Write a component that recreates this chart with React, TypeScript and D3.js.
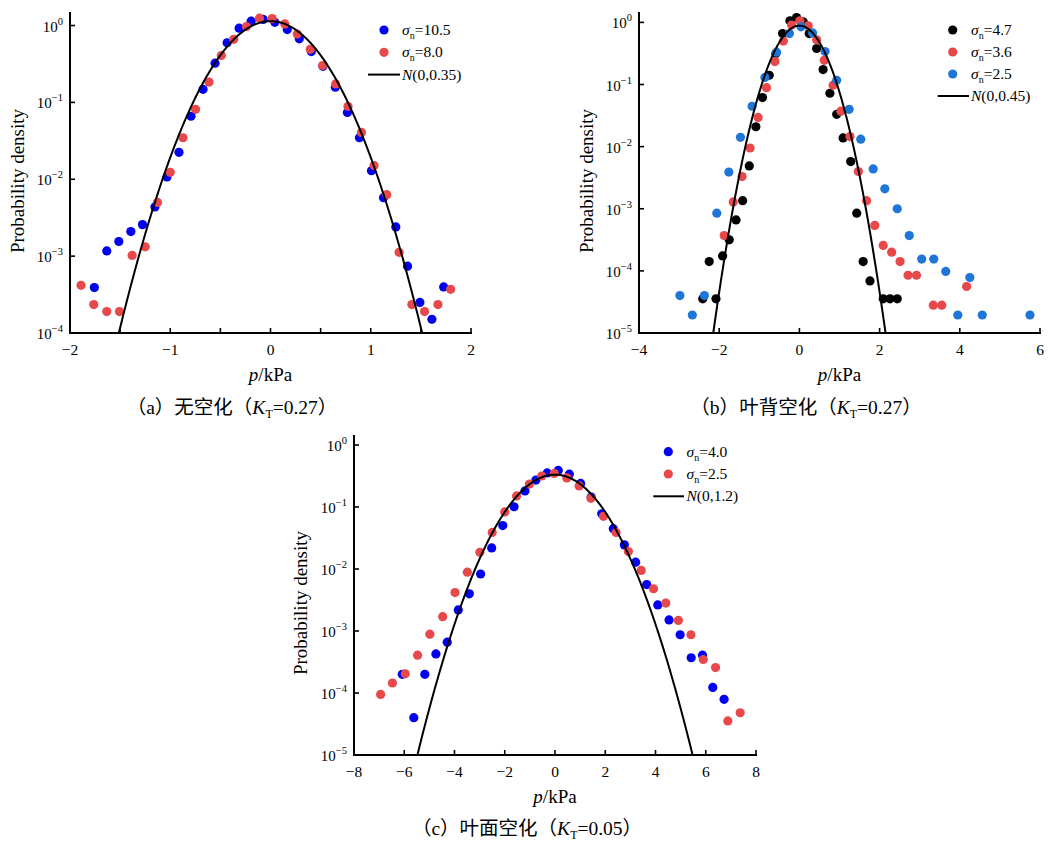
import React from 'react';
import * as d3 from 'd3';

// ---------- Panel (a): 无空化 ----------
const aSigma105: [number, number][] = [
  [-1.757, 3.9e-4], [-1.633, 1.17e-3], [-1.513, 1.55e-3], [-1.393, 2.09e-3], [-1.277, 2.57e-3],
  [-1.153, 4.37e-3], [-1.033, 1.07e-2], [-0.913, 2.24e-2], [-0.793, 6.6e-2], [-0.673, 0.148],
  [-0.553, 0.324], [-0.433, 0.596], [-0.313, 0.923], [-0.193, 1.14], [-0.073, 1.2],
  [0.043, 1.1], [0.167, 0.887], [0.287, 0.671], [0.407, 0.459], [0.523, 0.295],
  [0.647, 0.158], [0.767, 0.0741], [0.887, 0.0347], [1.007, 0.0129], [1.127, 5.75e-3],
  [1.25, 2.4e-3], [1.367, 7.4e-4], [1.49, 2.5e-4], [1.61, 1.51e-4], [1.727, 3.98e-4],
];
const aSigma80: [number, number][] = [
  [-1.89, 4.17e-4], [-1.763, 2.34e-4], [-1.633, 1.9e-4], [-1.507, 1.9e-4], [-1.38, 1.02e-3],
  [-1.25, 1.32e-3], [-1.127, 5.0e-3], [-1.0, 0.0123], [-0.873, 0.0347], [-0.747, 0.0813],
  [-0.613, 0.184], [-0.49, 0.407], [-0.367, 0.661], [-0.24, 0.97], [-0.11, 1.245],
  [0.017, 1.23], [0.143, 1.05], [0.267, 0.776], [0.397, 0.49], [0.52, 0.302],
  [0.65, 0.174], [0.773, 0.089], [0.907, 0.0407], [1.033, 0.0151], [1.16, 6.3e-3],
  [1.283, 1.12e-3], [1.41, 2.34e-4], [1.537, 1.9e-4], [1.67, 2.34e-4], [1.797, 3.7e-4],
];
const aNormalSigma = 0.35;
const aXTicks = [-2, -1.5, -1, -0.5, 0, 0.5, 1, 1.5, 2];
const aXLabels = [-2, -1, 0, 1, 2];
const aYExps = [0, -1, -2, -3, -4];

// ---------- Panel (b): 叶背空化 ----------
const bSigma47: [number, number][] = [
  [-2.41, 3.55e-5], [-2.25, 1.41e-4], [-2.08, 3.55e-5], [-1.915, 1.74e-4], [-1.75, 3.16e-4],
  [-1.58, 6.6e-4], [-1.415, 1.35e-3], [-1.25, 4.9e-3], [-1.085, 0.0209], [-0.92, 0.0617],
  [-0.753, 0.141], [-0.587, 0.316], [-0.42, 0.661], [-0.237, 1.06], [-0.07, 1.2],
  [0.095, 1.02], [0.245, 0.661], [0.43, 0.38], [0.59, 0.174], [0.76, 0.0724],
  [0.93, 0.0331], [1.09, 0.0138], [1.28, 5.75e-3], [1.43, 8.5e-4], [1.59, 1.41e-4],
  [1.76, 6.9e-5], [2.09, 3.55e-5], [2.26, 3.55e-5], [2.44, 3.55e-5],
];
const bSigma36: [number, number][] = [
  [-1.875, 3.7e-4], [-1.65, 1.29e-3], [-1.43, 3.3e-3], [-1.23, 9.5e-3], [-1.03, 0.0295],
  [-0.82, 0.089], [-0.61, 0.234], [-0.4, 0.5], [-0.195, 0.906], [0.01, 1.06],
  [0.22, 0.88], [0.43, 0.525], [0.62, 0.245], [0.84, 0.0977], [1.035, 0.0372],
  [1.26, 0.0145], [1.47, 3.98e-3], [1.675, 1.35e-3], [1.88, 5.4e-4], [2.09, 2.57e-4],
  [2.3, 2.0e-4], [2.51, 1.41e-4], [2.71, 8.5e-5], [2.92, 8.5e-5], [3.34, 2.8e-5],
  [3.55, 2.8e-5], [4.17, 5.6e-5],
];
const bSigma25: [number, number][] = [
  [-2.98, 4.0e-5], [-2.67, 1.95e-5], [-2.37, 4.0e-5], [-2.06, 8.5e-4], [-1.76, 3.9e-3],
  [-1.47, 0.0141], [-1.18, 0.0447], [-0.86, 0.13], [-0.57, 0.331], [-0.25, 0.661],
  [0.04, 0.85], [0.33, 0.676], [0.64, 0.339], [0.93, 0.117], [1.24, 0.0398],
  [1.53, 0.0132], [1.84, 4.37e-3], [2.13, 2.09e-3], [2.44, 1.0e-3], [2.74, 3.7e-4],
  [3.05, 1.55e-4], [3.35, 1.55e-4], [3.65, 9.8e-5], [3.95, 1.95e-5], [4.25, 7.8e-5],
  [4.56, 1.95e-5], [5.75, 1.95e-5],
];
const bNormalSigma = 0.45;
const bXTicks = [-4, -2, 0, 2, 4, 6];
const bXLabels = [-4, -2, 0, 2, 4, 6];
const bYExps = [0, -1, -2, -3, -4, -5];

// ---------- Panel (c): 叶面空化 ----------
const cSigma40: [number, number][] = [
  [-6.08, 2.0e-4], [-5.62, 4.0e-5], [-5.18, 2.0e-4], [-4.74, 4.27e-4], [-4.29, 6.6e-4],
  [-3.85, 2.19e-3], [-3.41, 3.98e-3], [-2.96, 8.3e-3], [-2.52, 0.0219], [-2.08, 0.0501],
  [-1.63, 0.101], [-1.195, 0.182], [-0.76, 0.272], [-0.31, 0.355], [0.13, 0.389],
  [0.57, 0.339], [1.02, 0.24], [1.44, 0.145], [1.86, 0.0776], [2.32, 0.0447],
  [2.76, 0.0245], [3.21, 0.0129], [3.65, 5.6e-3], [4.09, 2.63e-3], [4.54, 1.51e-3],
  [4.98, 8.7e-4], [5.42, 3.7e-4], [5.87, 4.07e-4], [6.28, 1.23e-4], [6.73, 7.9e-5],
];
const cSigma25: [number, number][] = [
  [-6.94, 9.5e-5], [-6.47, 1.45e-4], [-5.96, 2.04e-4], [-5.47, 4.07e-4], [-4.98, 8.9e-4],
  [-4.47, 1.7e-3], [-3.98, 4.17e-3], [-3.49, 8.9e-3], [-2.99, 0.0186], [-2.5, 0.0389],
  [-2.0, 0.0832], [-1.53, 0.151], [-1.02, 0.234], [-0.53, 0.316], [-0.03, 0.347],
  [0.47, 0.295], [0.96, 0.219], [1.43, 0.138], [1.93, 0.0708], [2.43, 0.0389],
  [2.92, 0.0191], [3.43, 9.5e-3], [3.92, 4.8e-3], [4.41, 2.82e-3], [4.91, 1.48e-3],
  [5.41, 8.7e-4], [5.9, 3.47e-4], [6.39, 2.57e-4], [6.88, 3.55e-5], [7.37, 4.8e-5],
];
const cNormalSigma = 1.2;
const cXTicks = [-8, -6, -4, -2, 0, 2, 4, 6, 8];
const cXLabels = [-8, -6, -4, -2, 0, 2, 4, 6, 8];
const cYExps = [0, -1, -2, -3, -4, -5];

const BLUE = '#0000f0';
const RED = '#e8484a';
const BLACK = '#000000';
const LBLUE = '#1f76d9';

const SERIF = "'Liberation Serif', 'Times New Roman', serif";
const CAPFONT = "'Liberation Serif', 'Noto Sans CJK SC', serif";

type Series = { name: string; data: [number, number][]; color: string };

type PanelCfg = {
  id: string;
  left: number; right: number; top: number; bottom: number;
  xDomain: [number, number]; yDomain: [number, number];
  xTicks: number[]; xLabels: number[]; yExps: number[];
  series: Series[];
  sigma: number;
  legend: { dotX: number; lineX0: number; lineX1: number; textX: number; y0: number; dy: number };
  yTitle: { x: number; y: number };
  xTitleY: number;
  caption: { x: number; y: number; letter: string; zh: string; kt: string };
};

const fmt = (v: number) => (v < 0 ? '\u2212' + Math.abs(v) : String(v));
const gauss = (s: number) => (x: number) => Math.exp(-(x * x) / (2 * s * s)) / (s * Math.sqrt(2 * Math.PI));

function Panel({ cfg }: { cfg: PanelCfg }) {
  const x = d3.scaleLinear().domain(cfg.xDomain).range([cfg.left, cfg.right]);
  const y = d3.scaleLog().domain(cfg.yDomain).range([cfg.bottom, cfg.top]);
  const f = gauss(cfg.sigma);
  const xs = d3.range(cfg.xDomain[0], cfg.xDomain[1] + 1e-9, (cfg.xDomain[1] - cfg.xDomain[0]) / 800);
  const pts = xs.map((v) => [v, Math.max(f(v), cfg.yDomain[0] * 0.3)] as [number, number]);
  const line = d3.line<[number, number]>().x((d) => x(d[0])).y((d) => y(d[1]));
  const clipId = 'clip-' + cfg.id;
  const lg = cfg.legend;
  return (
    <g>
      <defs>
        <clipPath id={clipId}>
          <rect x={cfg.left} y={cfg.top} width={cfg.right - cfg.left} height={cfg.bottom - cfg.top} />
        </clipPath>
      </defs>
      {/* points */}
      <g clipPath={`url(#${clipId})`}>
        {cfg.series.map((s) =>
          s.data.map((d, i) => (
            <circle key={s.name + i} cx={x(d[0])} cy={y(d[1])} r={4.6} fill={s.color} />
          ))
        )}
        <path d={line(pts) || ''} fill="none" stroke="#000" strokeWidth={2} />
      </g>
      {/* axes */}
      <line x1={cfg.left} x2={cfg.left} y1={cfg.top} y2={cfg.bottom + 1} stroke="#000" strokeWidth={2} />
      <line x1={cfg.left - 1} x2={cfg.right + 1} y1={cfg.bottom} y2={cfg.bottom} stroke="#000" strokeWidth={2} />
      {cfg.xTicks.map((t) => (
        <line key={'xt' + t} x1={x(t)} x2={x(t)} y1={cfg.bottom} y2={cfg.bottom - 5} stroke="#000" strokeWidth={1.6} />
      ))}
      {cfg.xLabels.map((t) => (
        <text key={'xl' + t} x={x(t)} y={cfg.bottom + 22} textAnchor="middle" fontFamily={SERIF} fontSize={15.5}>
          {fmt(t)}
        </text>
      ))}
      {cfg.yExps.map((e) => (
        <g key={'y' + e}>
          <line x1={cfg.left} x2={cfg.left + 5} y1={y(Math.pow(10, e))} y2={y(Math.pow(10, e))} stroke="#000" strokeWidth={1.6} />
          <text x={cfg.left - 7} y={y(Math.pow(10, e)) + 6} textAnchor="end" fontFamily={SERIF} fontSize={15}>
            10
            <tspan dy={-7} fontSize={10.5}>{fmt(e)}</tspan>
          </text>
        </g>
      ))}
      {/* axis titles */}
      <text
        transform={`translate(${cfg.yTitle.x},${cfg.yTitle.y}) rotate(-90)`}
        textAnchor="middle"
        dy={6}
        fontFamily={SERIF}
        fontSize={19}
      >
        Probability density
      </text>
      <text x={(cfg.left + cfg.right) / 2} y={cfg.xTitleY} textAnchor="middle" fontFamily={SERIF} fontSize={19}>
        <tspan fontStyle="italic">p</tspan>/kPa
      </text>
      {/* legend */}
      {cfg.series.map((s, i) => (
        <g key={'lg' + s.name}>
          <circle cx={lg.dotX} cy={lg.y0 + i * lg.dy} r={4.6} fill={s.color} />
          <text x={lg.textX} y={lg.y0 + i * lg.dy + 5} fontFamily={SERIF} fontSize={15.5}>
            <tspan fontStyle="italic">σ</tspan>
            <tspan fontSize={10} dy={4}>n</tspan>
            <tspan dy={-4}>={s.name}</tspan>
          </text>
        </g>
      ))}
      <line
        x1={lg.lineX0}
        x2={lg.lineX1}
        y1={lg.y0 + cfg.series.length * lg.dy}
        y2={lg.y0 + cfg.series.length * lg.dy}
        stroke="#000"
        strokeWidth={2}
      />
      <text x={lg.textX} y={lg.y0 + cfg.series.length * lg.dy + 5} fontFamily={SERIF} fontSize={15.5}>
        <tspan fontStyle="italic">N</tspan>(0,{cfg.sigma})
      </text>
      {/* caption */}
      <text x={cfg.caption.x} y={cfg.caption.y} textAnchor="middle" fontFamily={CAPFONT} fontSize={19.5}>
        （{cfg.caption.letter}）{cfg.caption.zh}（<tspan fontStyle="italic">K</tspan>
        <tspan fontSize={12} dy={4}>T</tspan>
        <tspan dy={-4}>={cfg.caption.kt}）</tspan>
      </text>
    </g>
  );
}

const panels: PanelCfg[] = [
  {
    id: 'a', left: 70, right: 471, top: 12, bottom: 333,
    xDomain: [-2, 2], yDomain: [1e-4, 1.5],
    xTicks: aXTicks, xLabels: aXLabels, yExps: aYExps,
    series: [
      { name: '10.5', data: aSigma105, color: BLUE },
      { name: '8.0', data: aSigma80, color: RED },
    ],
    sigma: aNormalSigma,
    legend: { dotX: 384, lineX0: 368, lineX1: 400, textX: 402, y0: 30, dy: 22.3 },
    yTitle: { x: 18, y: 181 },
    xTitleY: 381,
    caption: { x: 232, y: 414, letter: 'a', zh: '无空化', kt: '0.27' },
  },
  {
    id: 'b', left: 639, right: 1040, top: 12, bottom: 333,
    xDomain: [-4, 6], yDomain: [1e-5, 1.47],
    xTicks: bXTicks, xLabels: bXLabels, yExps: bYExps,
    series: [
      { name: '4.7', data: bSigma47, color: BLACK },
      { name: '3.6', data: bSigma36, color: RED },
      { name: '2.5', data: bSigma25, color: LBLUE },
    ],
    sigma: bNormalSigma,
    legend: { dotX: 952.7, lineX0: 937.7, lineX1: 969, textX: 971, y0: 30, dy: 22 },
    yTitle: { x: 587, y: 181 },
    xTitleY: 381,
    caption: { x: 806, y: 414, letter: 'b', zh: '叶背空化', kt: '0.27' },
  },
  {
    id: 'c', left: 354, right: 756, top: 435, bottom: 755,
    xDomain: [-8, 8], yDomain: [1e-5, 1.45],
    xTicks: cXTicks, xLabels: cXLabels, yExps: cYExps,
    series: [
      { name: '4.0', data: cSigma40, color: BLUE },
      { name: '2.5', data: cSigma25, color: RED },
    ],
    sigma: cNormalSigma,
    legend: { dotX: 668.3, lineX0: 653.3, lineX1: 684, textX: 686.5, y0: 451.7, dy: 22.3 },
    yTitle: { x: 301, y: 603 },
    xTitleY: 803,
    caption: { x: 527, y: 835, letter: 'c', zh: '叶面空化', kt: '0.05' },
  },
];

export default function App() {
  return (
    <svg
      width={1048}
      height={843}
      viewBox="0 0 1048 843"
      style={{ position: 'absolute', left: 0, top: 0, background: '#fff' }}
    >
      <rect x={0} y={0} width={1048} height={843} fill="#fff" />
      {panels.map((p) => (
        <Panel key={p.id} cfg={p} />
      ))}
    </svg>
  );
}
